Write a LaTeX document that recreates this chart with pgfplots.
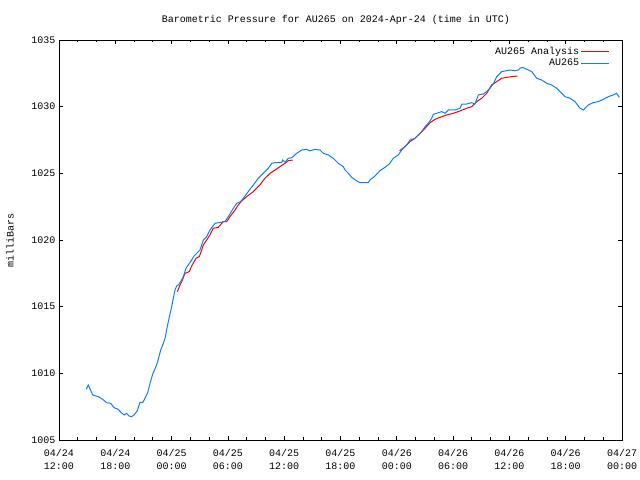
\documentclass[border=0pt]{standalone}
\usepackage{pgfplots}
\pgfplotsset{compat=1.18}
\usepackage{fontspec}
\setmainfont{Liberation Mono}
\definecolor{aublue}{RGB}{10,128,255}
\definecolor{aured}{RGB}{255,0,0}
\begin{document}
\fontsize{10bp}{12bp}\selectfont
\begin{tikzpicture}
\useasboundingbox (0,0) rectangle (640bp,480bp);
\begin{axis}[
  at={(59bp,40bp)}, anchor=south west,
  scale only axis, width=563bp, height=400bp,
  xmin=0, xmax=60, ymin=1005, ymax=1035,
  xtick={0,6,...,60},
  xticklabels={{04/24\\12:00},{04/24\\18:00},{04/25\\00:00},{04/25\\06:00},{04/25\\12:00},{04/25\\18:00},{04/26\\00:00},{04/26\\06:00},{04/26\\12:00},{04/26\\18:00},{04/27\\00:00}},
  xticklabel style={align=center, yshift=-6bp, font=\fontsize{10bp}{12.5bp}\selectfont},
  yticklabel style={font=\fontsize{10bp}{12bp}\selectfont},
  minor x tick num=2,
  ytick={1005,1010,...,1035},
  minor y tick num=0,
  scaled y ticks=false,
  /pgf/number format/1000 sep={},
  /pgf/number format/assume math mode=true,
  tick align=inside,
  major tick length=4bp, minor tick length=2.5bp,
  tick style={black, line width=0.8bp},
  axis line style={line width=0.8bp},
  title={Barometric Pressure for AU265 on 2024-Apr-24 (time in UTC)},
  title style={at={(axis description cs:0.492,1)}, anchor=center, yshift=14bp, font=\fontsize{10bp}{12bp}\selectfont},
  ylabel={milliBars},
  ylabel style={at={(axis description cs:-0.087,0.5)}, anchor=center, font=\fontsize{10bp}{12bp}\selectfont},
  legend cell align=right,
  legend plot pos=right,
  legend style={draw=none, fill=none, at={(axis description cs:0.978,0.985)}, anchor=north east,
    inner sep=0pt, row sep=0.5bp, font=\fontsize{10bp}{12bp}\selectfont,
    nodes={inner sep=1.2bp}},
  legend image code/.code={\draw[#1] (0bp,0bp) -- (28bp,0bp);},
  unbounded coords=jump,
]
\addplot[aured, line width=1bp] coordinates {
(12.61,1016.12) (12.90,1016.63) (13.08,1016.88) (13.43,1017.50) (13.89,1017.63)
(14.14,1018.05) (14.60,1018.63) (14.95,1018.75) (15.21,1019.25) (15.38,1019.63)
(15.74,1020.00) (16.09,1020.38) (16.44,1020.88) (16.98,1020.95) (17.51,1021.38)
(17.87,1021.38) (18.22,1021.75) (18.76,1022.25) (19.11,1022.63) (19.47,1022.93)
(20.00,1023.25) (20.71,1023.63) (21.42,1024.13) (21.95,1024.63) (22.49,1025.00)
(23.02,1025.25) (23.55,1025.50) (24.09,1025.75) (24.44,1025.95) (24.91,1026.00)
(30.00,nan)
(36.30,1026.70) (36.87,1027.00) (37.41,1027.38) (37.94,1027.63) (38.47,1028.00)
(39.01,1028.38) (39.54,1028.80) (40.07,1029.05) (40.60,1029.20) (41.32,1029.38)
(42.02,1029.50) (42.74,1029.68) (43.45,1029.88) (43.98,1030.00) (44.52,1030.38)
(45.05,1030.63) (45.58,1031.00) (46.11,1031.63) (46.65,1031.88) (47.18,1032.13)
(47.71,1032.20) (48.24,1032.25) (48.84,1032.30)
};
\addlegendentry{AU265 Analysis}
\addplot[aublue, line width=1bp] coordinates {
(2.91,1008.80) (3.12,1009.13) (3.59,1008.38) (4.19,1008.25) (4.66,1008.05)
(5.08,1007.80) (5.51,1007.75) (5.89,1007.42) (6.32,1007.30) (6.58,1007.08)
(6.96,1006.88) (7.21,1007.00) (7.46,1006.80) (7.75,1006.75) (7.99,1006.88)
(8.34,1007.18) (8.63,1007.83) (8.92,1007.80) (9.17,1008.13) (9.45,1008.55)
(9.70,1009.25) (9.99,1009.95) (10.26,1010.38) (10.52,1010.88) (10.84,1011.75)
(11.12,1012.25) (11.30,1012.63) (11.54,1013.50) (11.76,1014.25) (12.01,1015.00)
(12.18,1015.63) (12.36,1016.25) (12.54,1016.55) (12.71,1016.63) (12.97,1016.88)
(13.25,1017.25) (13.53,1017.88) (13.78,1018.13) (14.14,1018.50) (14.39,1018.80)
(14.67,1019.00) (15.03,1019.25) (15.38,1020.00) (15.74,1020.25) (16.09,1020.75)
(16.63,1021.25) (17.69,1021.38) (18.04,1021.75) (18.58,1022.38) (18.94,1022.75)
(19.36,1022.88) (19.64,1023.13) (20.17,1023.63) (20.71,1024.13) (21.24,1024.63)
(21.77,1025.00) (22.31,1025.38) (22.67,1025.75) (23.02,1025.80) (23.73,1025.80)
(23.84,1026.00) (24.09,1025.83) (24.44,1026.13) (24.80,1026.17) (25.33,1026.50)
(25.87,1026.75) (26.40,1026.80) (26.75,1026.68) (27.28,1026.80) (27.82,1026.75)
(28.17,1026.50) (28.70,1026.38) (29.23,1026.13) (29.77,1025.75) (30.30,1025.50)
(30.48,1025.25) (30.83,1025.00) (31.19,1024.70) (31.73,1024.43) (32.08,1024.30)
(32.96,1024.30) (33.14,1024.50) (33.68,1024.80) (34.21,1025.20) (34.74,1025.45)
(35.20,1025.70) (35.63,1026.13) (36.16,1026.38) (36.52,1026.75) (36.87,1027.00)
(37.06,1027.13) (37.41,1027.50) (37.94,1027.63) (38.29,1027.88) (38.65,1028.13)
(39.01,1028.50) (39.36,1028.75) (39.72,1029.13) (39.89,1029.43) (40.25,1029.50)
(40.79,1029.63) (41.14,1029.50) (41.49,1029.75) (42.20,1029.75) (42.74,1029.88)
(42.92,1030.18) (43.45,1030.20) (43.98,1030.30) (44.33,1030.20) (44.69,1030.88)
(45.22,1030.95) (45.58,1031.13) (45.93,1031.38) (46.28,1031.70) (46.65,1032.25)
(47.18,1032.63) (47.71,1032.70) (48.06,1032.75) (48.60,1032.70) (48.95,1032.75)
(49.13,1032.88) (49.42,1032.95) (49.84,1032.80) (50.38,1032.63) (50.91,1032.13)
(51.44,1032.00) (51.98,1031.75) (52.51,1031.63) (53.04,1031.38) (53.57,1031.00)
(53.93,1030.75) (54.46,1030.63) (54.99,1030.38) (55.52,1029.88) (55.88,1029.75)
(56.41,1030.13) (56.94,1030.30) (57.47,1030.38) (58.01,1030.55) (58.54,1030.75)
(59.07,1030.88) (59.43,1031.00) (59.71,1030.70)
};
\addlegendentry{AU265}
\end{axis}
\end{tikzpicture}
\end{document}
